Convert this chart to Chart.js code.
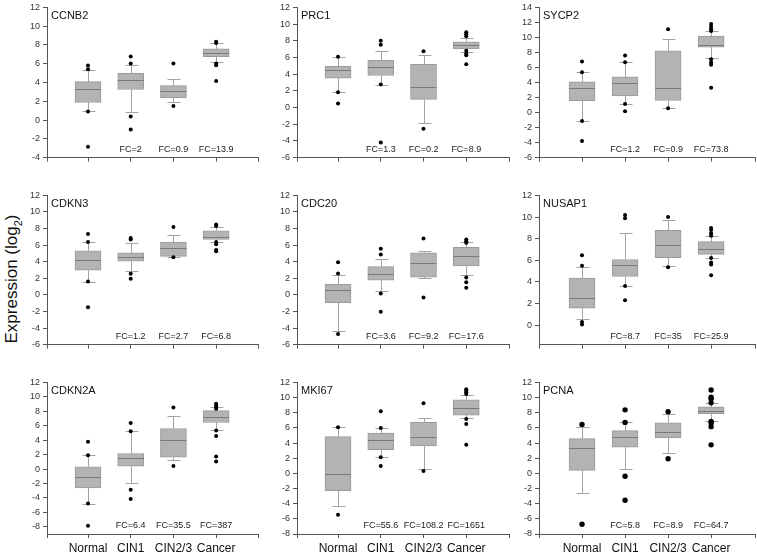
<!DOCTYPE html>
<html>
<head>
<meta charset="utf-8">
<script src="https://cdn.jsdelivr.net/npm/chart.js@4.4.0/dist/chart.umd.min.js"></script>
<style>
  body { margin: 0; background: #fff; width: 757px; height: 554px; position: relative; overflow: hidden;
         font-family: "Liberation Sans", Arial, sans-serif; }
  canvas { position: absolute; }
  #ytitle { position: absolute; left: 13px; top: 279px; transform: translate(-50%, -50%) rotate(-90deg);
            font-size: 17px; white-space: nowrap; color: #111; }
  #ytitle sub { font-size: 11px; }
</style>
</head>
<body>
<div id="ytitle">Expression (log<sub>2</sub>)</div>
<script>
// data
var genes = ["CCNB2", "PRC1", "SYCP2", "CDKN3", "CDC20", "NUSAP1", "CDKN2A", "MKI67", "PCNA"];
var groups = ["Normal", "CIN1", "CIN2/3", "Cancer"];
var fcLabels = [
  ["FC=2", "FC=0.9", "FC=13.9"], ["FC=1.3", "FC=0.2", "FC=8.9"], ["FC=1.2", "FC=0.9", "FC=73.8"],
  ["FC=1.2", "FC=2.7", "FC=6.8"], ["FC=3.6", "FC=9.2", "FC=17.6"], ["FC=8.7", "FC=35", "FC=25.9"],
  ["FC=6.4", "FC=35.5", "FC=387"], ["FC=55.6", "FC=108.2", "FC=1651"], ["FC=5.8", "FC=8.9", "FC=64.7"]
];
var yMin = [-4, -6, -6, -6, -6, -1.8, -9, -8, -8];
var yMax = [12, 12, 14, 12, 12, 12, 12, 12, 12];
var yTicks = [
  [-4, -2, 0, 2, 4, 6, 8, 10, 12],
  [-6, -4, -2, 0, 2, 4, 6, 8, 10, 12],
  [-6, -4, -2, 0, 2, 4, 6, 8, 10, 12, 14],
  [-6, -4, -2, 0, 2, 4, 6, 8, 10, 12],
  [-6, -4, -2, 0, 2, 4, 6, 8, 10, 12],
  [0, 2, 4, 6, 8, 10, 12],
  [-8, -6, -4, -2, 0, 2, 4, 6, 8, 10, 12],
  [-8, -6, -4, -2, 0, 2, 4, 6, 8, 10, 12],
  [-8, -6, -4, -2, 0, 2, 4, 6, 8, 10, 12]
];
var boxLow = [
  [1.87, 3.25, 2.39, 6.75], [3.53, 3.84, 0.98, 7.02], [1.57, 2.22, 1.6, 8.7],
  [2.97, 4.06, 4.65, 6.68], [-0.94, 1.76, 2.15, 3.48], [1.56, 4.5, 6.25, 6.55],
  [-2.6, 0.41, 1.64, 6.44], [-2.27, 3.14, 3.62, 7.69], [0.39, 3.45, 4.67, 7.86]
];
var medians = [
  [3.3, 4.29, 3.11, 7.09], [4.5, 4.82, 2.47, 7.53], [3.26, 3.96, 3.26, 9.04],
  [4.22, 4.6, 5.7, 7.03], [0.62, 2.5, 3.79, 4.69], [2.55, 5.53, 7.42, 7.0],
  [-1.05, 1.46, 3.97, 7.26], [-0.13, 4.37, 4.85, 8.6], [3.28, 4.8, 5.5, 8.25]
];
var boxHigh = [
  [4.1, 4.98, 3.67, 7.58], [4.94, 5.65, 5.18, 7.88], [4.09, 4.74, 8.22, 10.17],
  [5.31, 5.08, 6.37, 7.73], [1.29, 3.4, 5.08, 5.74], [4.35, 6.07, 8.77, 7.72],
  [0.32, 2.15, 5.62, 8.08], [4.85, 5.33, 6.72, 9.69], [4.59, 5.63, 6.68, 8.78]
];
var whiskLow = [
  [0.95, 0.9, 1.87, 6.2], [1.85, 2.75, -1.88, 6.67], [-1.13, 1.13, 0.57, 7.26],
  [1.6, 2.93, 4.53, 6.37], [-4.34, 0.47, 2.0, 2.34], [0.54, 3.63, 5.44, 6.25],
  [-4.79, -1.96, 1.28, 5.39], [-4.28, 2.14, 0.61, 7.34], [-2.62, 0.61, 2.75, 6.86]
];
var whiskHigh = [
  [5.35, 5.85, 4.36, 8.17], [6.05, 6.82, 6.24, 8.3], [5.35, 6.7, 9.78, 10.87],
  [6.37, 6.25, 7.27, 8.24], [2.4, 4.34, 5.27, 6.37], [5.35, 8.56, 9.73, 8.26],
  [1.92, 5.25, 7.4, 8.63], [6.07, 6.0, 7.29, 10.35], [6.11, 6.72, 7.86, 9.3]
];
var outliers = [
  [[5.8, 5.4, 0.9, -2.85], [6.78, 6.02, 0.38, -1.0], [6.02, 1.49], [8.34, 8.22, 6.02, 5.85, 4.15]],
  [[6.08, 1.84, 0.47], [8.0, 7.53, 2.75, -4.2], [6.75, -2.55], [9.02, 8.78, 8.55, 6.8, 6.47, 6.27, 5.18]],
  [[6.78, 5.35, -1.13, -3.78], [7.6, 6.7, 1.13, 0.17], [11.1, 0.57], [11.78, 11.43, 11.1, 10.87, 7.09, 6.65, 6.35, 3.3]],
  [[7.34, 6.37, 1.6, -1.48], [6.87, 6.68, 2.54, 1.95], [8.2, 4.53], [8.5, 8.3, 6.37, 6.1, 5.4, 5.27]],
  [[3.95, 2.58, -4.73], [5.55, 4.88, 0.16, -2.03], [6.8, -0.31], [6.68, 6.48, 6.29, 2.1, 1.52, 0.86]],
  [[6.46, 5.5, 0.3, 0.06], [10.18, 9.88, 3.63, 2.31], [10.0, 5.35], [8.98, 8.8, 8.5, 8.26, 6.2, 5.8, 5.6, 4.62]],
  [[3.79, 1.92, -4.79, -7.85], [6.39, 5.25, -2.88, -4.16], [8.54, 0.41], [9.04, 8.81, 8.54, 8.36, 5.34, 4.57, 1.74, 1.05]],
  [[6.07, -5.46], [8.2, 6.0, 2.14, 0.96], [9.26, 0.31], [11.1, 10.9, 10.7, 10.48, 7.16, 6.5, 3.76]],
  [[6.46, -6.72], [8.38, 6.72, -0.39, -3.54], [8.12, 1.92], [11.0, 10.04, 9.83, 9.3, 6.86, 6.64, 6.16, 3.76]]
];

// layout of the 3x3 grid (plot area edges in page pixels)
var plotLeft = [47, 297, 539], plotRight = [258, 509, 755];
var plotTop = [5, 193, 380], plotBottom = [160, 347, 534];
var xRange = [[0.04, 4.98], [0.04, 5.0], [0, 5.02]];
var font = "'Liberation Sans', Arial, sans-serif";

var boxExtras = {
  id: "boxExtras",
  beforeDatasetsDraw: function (chart) {
    var p = chart.options.plugins.boxExtras.panel;
    var x = chart.scales.x, y = chart.scales.y, ctx = chart.ctx;
    ctx.save();
    ctx.strokeStyle = "#a3a3a3";
    ctx.lineWidth = 1;
    for (var g = 0; g < 4; g++) {
      var cx = Math.round(x.getPixelForValue(g + 1)) + 0.5;
      var segs = [[boxHigh[p][g], whiskHigh[p][g]], [boxLow[p][g], whiskLow[p][g]]];
      segs.forEach(function (s) {
        var y0 = y.getPixelForValue(s[0]);
        var y1 = Math.round(y.getPixelForValue(s[1])) + 0.5;
        ctx.beginPath();
        ctx.moveTo(cx, y0); ctx.lineTo(cx, y1);
        ctx.moveTo(cx - 6, y1); ctx.lineTo(cx + 7, y1);
        ctx.stroke();
      });
    }
    ctx.restore();
  },
  afterDatasetDraw: function (chart, args) {
    if (args.index !== 1) return;
    var p = chart.options.plugins.boxExtras.panel;
    var x = chart.scales.x, y = chart.scales.y, ctx = chart.ctx;
    ctx.save();
    ctx.strokeStyle = "#7a7a7a";
    ctx.lineWidth = 1;
    for (var g = 0; g < 4; g++) {
      var cx = x.getPixelForValue(g + 1);
      var my = Math.round(y.getPixelForValue(medians[p][g])) + 0.5;
      ctx.beginPath();
      ctx.moveTo(cx - 13, my); ctx.lineTo(cx + 13, my);
      ctx.stroke();
    }
    ctx.restore();
  },
  afterDraw: function (chart) {
    var p = chart.options.plugins.boxExtras.panel;
    var x = chart.scales.x, a = chart.chartArea, ctx = chart.ctx;
    ctx.save();
    ctx.fillStyle = "#111";
    ctx.font = "11px " + font;
    ctx.textBaseline = "middle";
    ctx.textAlign = "left";
    ctx.fillText(genes[p], a.left + 4, a.top + 9);
    ctx.font = "9px " + font;
    ctx.fillStyle = "#222";
    ctx.textAlign = "center";
    for (var g = 1; g < 4; g++) {
      ctx.fillText(fcLabels[p][g - 1], x.getPixelForValue(g + 1), a.bottom - 8);
    }
    ctx.restore();
  }
};
Chart.register(boxExtras);

for (var p = 0; p < 9; p++) {
  var r = Math.floor(p / 3), c = p % 3;
  var xh = r === 2 ? 26 : 6;
  var cv = document.createElement("canvas");
  var w = plotRight[c] - plotLeft[c] + 44;
  var h = plotBottom[r] - plotTop[r] + 6 + xh;
  cv.width = w; cv.height = h;
  cv.style.left = (plotLeft[c] - 40) + "px";
  cv.style.top = (plotTop[r] - 6) + "px";
  cv.style.width = w + "px"; cv.style.height = h + "px";
  document.body.appendChild(cv);

  var boxes = [], dots = [];
  for (var g = 0; g < 4; g++) {
    boxes.push({ x: g + 1, y: [boxLow[p][g], boxHigh[p][g]] });
    outliers[p][g].forEach(function (v) { dots.push({ x: g + 1, y: v }); });
  }

  (function (p, r, c, xh) {
    new Chart(cv, {
      type: "bar",
      data: {
        datasets: [{
          type: "scatter",
          data: dots,
          pointRadius: p === 8 ? 2.7 : 2,
          pointBackgroundColor: "#000",
          pointBorderWidth: 0
        }, {
          type: "bar",
          data: boxes,
          barThickness: 26,
          backgroundColor: "#b3b3b3",
          borderColor: "#9a9a9a",
          borderWidth: 1,
          borderSkipped: false
        }]
      },
      options: {
        responsive: false,
        animation: false,
        devicePixelRatio: 1,
        layout: { padding: { top: 6, left: 0, right: 4, bottom: 0 } },
        plugins: { legend: { display: false }, tooltip: { enabled: false }, boxExtras: { panel: p } },
        scales: {
          x: {
            type: "linear",
            min: xRange[c][0], max: xRange[c][1],
            offset: false,
            grid: { offset: false, drawOnChartArea: false, drawTicks: true, tickLength: 4, color: "#555" },
            border: { display: true, color: "#555" },
            afterBuildTicks: function (s) {
              s.ticks = [xRange[c][0], 1, 2, 3, 4, xRange[c][1]].map(function (v) { return { value: v }; });
            },
            afterFit: function (s) { s.height = xh; },
            ticks: {
              autoSkip: false, maxRotation: 0, padding: 3,
              color: "#111", font: { family: font, size: 12 },
              callback: function (v) {
                return (r === 2 && Number.isInteger(v) && v >= 1 && v <= 4) ? groups[v - 1] : "";
              }
            }
          },
          y: {
            min: yMin[p], max: yMax[p],
            grid: { drawOnChartArea: false, drawTicks: true, tickLength: 4, color: "#555" },
            border: { display: true, color: "#555" },
            afterBuildTicks: function (s) {
              s.ticks = yTicks[p].map(function (v) { return { value: v }; });
            },
            afterFit: function (s) { s.width = 40; },
            ticks: { padding: 3, color: "#333", font: { family: font, size: 9 } }
          }
        }
      }
    });
  })(p, r, c, xh);
}
</script>
</body>
</html>
